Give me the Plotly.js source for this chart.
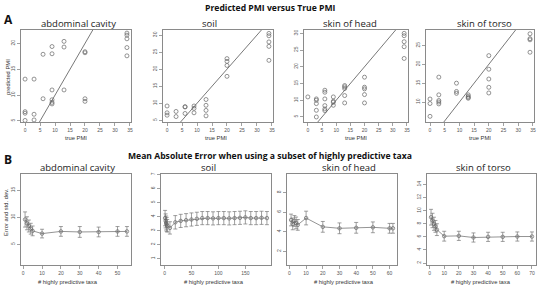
<!DOCTYPE html>
<html><head><meta charset="utf-8">
<script src="https://cdn.plot.ly/plotly-3.0.1.min.js"></script>
<style>html,body{margin:0;padding:0;background:#fff}#c{width:538px;height:286px}</style>
</head><body><div id="c"></div>
<script>
// ---- Panel A data (true PMI vs predicted PMI) ----
const panelNames = ["abdominal cavity", "soil", "skin of head", "skin of torso"];
const abdTrue = [0,0,0,0,3,3,3,6,6,9,9,9,9,9,9,13,13,13,20,20,20,20,34,34,34,34,34];
const abdPred = [6.5,6.8,5.1,13.1,13.1,6.3,5.2,9.3,17.9,19.4,18.0,11.0,9.1,8.6,8.3,20.4,19.3,11.0,18.4,18.2,9.3,8.8,22.0,21.6,20.9,19.2,17.6];
const soilTrue = [0,0,0,3,3,6,6,6,9,9,9,13,13,13,13,20,20,20,20,34,34,34,34,34];
const soilPred = [9.2,7.2,6.5,7.6,6.1,9.0,8.9,7.0,9.2,8.5,7.2,11.1,9.4,7.9,6.3,23.1,22.3,21.1,17.9,30.5,29.8,28.0,26.7,22.6];
const headTrue = [0,3,3,3,3,3,6,6,6,6,6,6,9,9,9,9,13,13,13,13,13,20,20,20,20,20,34,34,34,34,34];
const headPred = [11.0,10.4,10.0,9.0,7.0,5.0,13.0,12.4,10.4,8.4,7.4,6.9,11.0,9.7,9.4,8.5,14.4,14.0,13.5,11.4,9.2,16.9,13.9,13.4,11.7,9.2,30.0,29.3,27.5,26.0,22.5];
const torsoTrue = [0,0,0,3,3,3,3,3,9,9,9,13,13,13,13,20,20,20,20,20,34,34,34,34];
const torsoPred = [10.8,9.6,6.2,16.6,11.9,10.4,10.0,9.5,15.0,12.8,12.3,11.9,11.5,11.2,11.0,22.3,18.7,16.1,13.9,12.4,28.1,26.8,26.5,23.2];
const identityLine = [0, 40];

// ---- Panel B data (mean absolute error, std. dev.) ----
const abdTaxa = [1,2,3,4,5,10,20,30,40,50,55];
const abdErr  = [9.6,8.9,8.4,7.9,7.5,7.0,7.4,7.3,7.3,7.4,7.4];
const abdSd   = [1.4,1.2,1.1,1.0,0.9,0.8,0.9,1.0,0.9,0.9,0.9];
const soilTaxa = [1,2,3,4,5,10,20,30,40,50,60,70,80,90,100,110,120,130,140,150,160,170,180,190];
const soilErr  = [3.9,3.7,3.55,3.45,3.35,3.2,3.6,3.7,3.75,3.8,3.85,3.9,3.9,3.88,3.9,3.9,3.88,3.9,3.92,3.95,3.9,3.9,3.92,3.9];
const soilSd   = [0.55,0.5,0.5,0.5,0.45,0.44,0.48,0.47,0.47,0.47,0.47,0.47,0.47,0.47,0.47,0.47,0.47,0.47,0.47,0.47,0.47,0.47,0.47,0.47];
const headTaxa = [1,2,3,4,5,10,20,30,40,50,60,62];
const headErr  = [5.2,4.8,5.1,4.9,4.7,5.4,4.5,4.35,4.4,4.45,4.35,4.35];
const headSd   = [0.6,0.6,0.55,0.6,0.55,0.7,0.55,0.55,0.55,0.55,0.5,0.5];
const torsoTaxa = [1,2,3,4,5,10,20,30,40,50,60,70];
const torsoErr  = [9.0,8.5,8.0,7.6,7.1,6.1,6.15,5.9,6.0,6.0,6.05,6.05];
const torsoSd   = [1.2,1.1,1.0,0.9,0.9,0.75,0.7,0.7,0.7,0.7,0.7,0.7];

const W = 538, H = 286;
const fx = p => p / W, fy = p => 1 - p / H;
const GRAY = '#666', BOX = '#8a8a8a';
const tickFont = {family: 'Liberation Sans, Arial, sans-serif', size: 5, color: '#555'};
const titleFont = {family: 'Open Sans, sans-serif', size: 9.5, color: '#222'};
const axTitleFont = {family: 'Liberation Sans, Arial, sans-serif', size: 5.8, color: '#333'};

// box geometry (pixels)
const aBoxes = [[21,131],[163,273],[304,408],[426,534]];
const aY = [30,122];
const bBoxes = [[21,131],[161,271],[287,397],[427,536]];
const bY = [174,265];

const aYRange = [[4.8,22.6],[4.5,31.5],[3.5,31],[4.7,29.1]];
const aYTicks = [[5,10,15,20],[5,10,15,20,25,30],[5,10,15,20,25,30],[10,15,20,25]];
const bXRange = [[-1.16,57.16],[-6.56,197.56],[-1.44,64.44],[-1.76,72.76]];
const bXTicks = [[0,10,20,30,40,50],[0,50,100,150],[0,10,20,30,40,50,60],[0,10,20,30,40,50,60,70]];
const bYRange = [[1.2,18],[0.55,7.05],[0.6,9.9],[1.7,15.6]];
const bYTicks = [[5,10,15],[1,2,3,4,5,6,7],[2,4,6,8],[2,4,6,8,10,12,14]];

const aX = [abdTrue, soilTrue, headTrue, torsoTrue];
const aP = [abdPred, soilPred, headPred, torsoPred];
const bX = [abdTaxa, soilTaxa, headTaxa, torsoTaxa];
const bE = [abdErr, soilErr, headErr, torsoErr];
const bS = [abdSd, soilSd, headSd, torsoSd];

const data = [];
const layout = {
  width: W, height: H, margin: {l:0, r:0, t:0, b:0},
  paper_bgcolor: '#fff', plot_bgcolor: '#fff', showlegend: false,
  annotations: []
};

function axis(dom, range, ticks, isY) {
  return {
    domain: dom, range: range, tickmode: 'array', tickvals: ticks,
    showline: true, mirror: true, linecolor: BOX, linewidth: 1,
    ticks: 'outside', ticklen: 3, tickwidth: 0.8, tickcolor: BOX,
    tickfont: tickFont, showgrid: false, zeroline: false,
    tickangle: isY ? -90 : 0, fixedrange: true
  };
}

for (let i = 0; i < 4; i++) {
  const n = i + 1, m = i + 5;
  const xa = 'xaxis' + (n === 1 ? '' : n), ya = 'yaxis' + (n === 1 ? '' : n);
  layout[xa] = axis([fx(aBoxes[i][0]), fx(aBoxes[i][1])], [-1.36, 35.36], [0,5,10,15,20,25,30,35], false);
  layout[xa].anchor = 'y' + (n === 1 ? '' : n);
  layout[ya] = axis([fy(aY[1]), fy(aY[0])], aYRange[i], aYTicks[i], true);
  layout[ya].anchor = 'x' + (n === 1 ? '' : n);
  const xr = 'x' + (n === 1 ? '' : n), yr = 'y' + (n === 1 ? '' : n);
  data.push({x: identityLine, y: identityLine, xaxis: xr, yaxis: yr, mode: 'lines',
    line: {color: '#555', width: 0.8}, hoverinfo: 'skip'});
  data.push({x: aX[i], y: aP[i], xaxis: xr, yaxis: yr, mode: 'markers',
    marker: {symbol: 'circle-open', size: 4, color: GRAY, line: {width: 0.7, color: GRAY}}});

  layout['xaxis' + m] = axis([fx(bBoxes[i][0]), fx(bBoxes[i][1])], bXRange[i], bXTicks[i], false);
  layout['xaxis' + m].anchor = 'y' + m;
  layout['yaxis' + m] = axis([fy(bY[1]), fy(bY[0])], bYRange[i], bYTicks[i], true);
  layout['yaxis' + m].anchor = 'x' + m;
  data.push({x: bX[i], y: bE[i], xaxis: 'x' + m, yaxis: 'y' + m, mode: 'lines+markers',
    line: {color: GRAY, width: 0.7},
    marker: {symbol: 'circle-open', size: 3.5, color: GRAY, line: {width: 0.7, color: GRAY}},
    error_y: {type: 'data', array: bS[i], visible: true, color: '#777', thickness: 0.7, width: 2}});
}

function ann(text, px, py, font, extra) {
  layout.annotations.push(Object.assign({text: text, x: fx(px), y: fy(py), xref: 'paper', yref: 'paper',
    showarrow: false, font: font, xanchor: 'center', yanchor: 'middle'}, extra || {}));
}

const boldFont = {family: 'Open Sans, sans-serif', size: 8.6, color: '#111'};
ann('<b>Predicted PMI versus True PMI</b>', 270, 8, boldFont);
ann('<b>Mean Absolute Error when using a subset of highly predictive taxa</b>', 270, 156, boldFont);
ann('<b>A</b>', 8, 20, {family: 'Open Sans, sans-serif', size: 12, color: '#111'});
ann('<b>B</b>', 8, 159, {family: 'Open Sans, sans-serif', size: 12, color: '#111'});

const aTitleX = [78.5, 209, 350, 484.5];
const bTitleX = [77.5, 208, 349, 483.5];
const aAxTX = [76, 216, 356, 480];
const bAxTX = [68, 214, 344, 481];
for (let i = 0; i < 4; i++) {
  ann(panelNames[i], aTitleX[i], 23, titleFont);
  ann(panelNames[i], bTitleX[i], 167, titleFont);
  ann('true PMI', aAxTX[i], 137.5, axTitleFont);
  ann('# highly predictive taxa', bAxTX[i], 281.5, axTitleFont);
}
ann('predicted PMI', 8, 77, axTitleFont, {textangle: -90});
ann('Error and std. dev.', 6, 212, axTitleFont, {textangle: -90});

Plotly.newPlot('c', data, layout, {displayModeBar: false, staticPlot: true});
</script>
</body></html>
